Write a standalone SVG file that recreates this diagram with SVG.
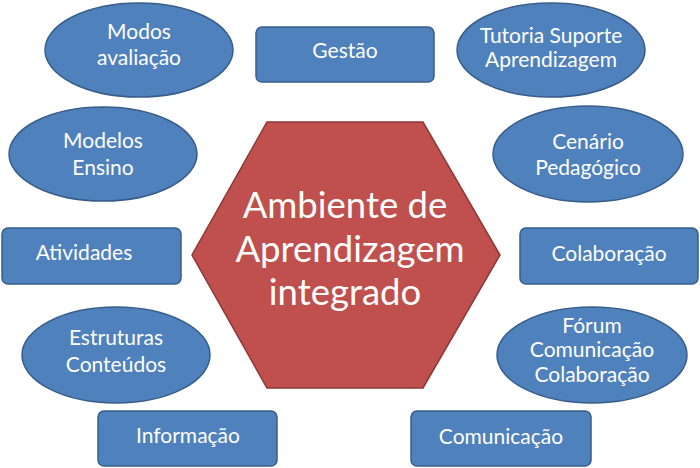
<svg xmlns="http://www.w3.org/2000/svg" width="700" height="468" viewBox="0 0 700 468">
<style>
.n{fill:#4f81bd;stroke:#385d8a;stroke-width:1.5}
.t{fill:#fff;font-family:Lato,"Liberation Sans",sans-serif;font-size:21px;text-anchor:middle}
.h{fill:#c0504d;stroke:#8c3836;stroke-width:1.5}
.ht{fill:#fff;font-family:Lato,"Liberation Sans",sans-serif;font-size:36.5px;text-anchor:middle}
</style>
<rect width="700" height="468" fill="#fff"/>
<g id="connectors"></g>
<g id="center">
<polygon class="h" points="267,122 423,122 500,255 423,388 267,388 192,255"/>
<text class="ht" x="345" y="218">Ambiente de</text>
<text class="ht" x="350" y="262">Aprendizagem</text>
<text class="ht" x="345" y="305">integrado</text>
</g>
<g id="modos"><ellipse class="n" cx="139" cy="50" rx="94" ry="47"/><text class="t" x="139" y="39">Modos</text><text class="t" x="139" y="65">avaliação</text></g>
<g id="gestao"><rect class="n" x="256" y="27" width="178" height="55" rx="6"/><text class="t" x="345" y="58">Gestão</text></g>
<g id="tutoria"><ellipse class="n" cx="551" cy="50" rx="94" ry="47"/><text class="t" x="551" y="43">Tutoria Suporte</text><text class="t" x="551" y="67">Aprendizagem</text></g>
<g id="modelos"><ellipse class="n" cx="103" cy="154" rx="94" ry="47"/><text class="t" x="103" y="148">Modelos</text><text class="t" x="103" y="175">Ensino</text></g>
<g id="cenario"><ellipse class="n" cx="588" cy="154" rx="95" ry="48"/><text class="t" x="588" y="149">Cenário</text><text class="t" x="588" y="175">Pedagógico</text></g>
<g id="atividades"><rect class="n" x="2" y="228" width="179" height="56" rx="6"/><text class="t" x="84" y="260">Atividades</text></g>
<g id="colaboracao"><rect class="n" x="520" y="228" width="178" height="56" rx="6"/><text class="t" x="609" y="261">Colaboração</text></g>
<g id="estruturas"><ellipse class="n" cx="116" cy="355" rx="94" ry="48"/><text class="t" x="116" y="345">Estruturas</text><text class="t" x="116" y="372">Conteúdos</text></g>
<g id="forum"><ellipse class="n" cx="592" cy="355" rx="95" ry="48"/><text class="t" x="592" y="333">Fórum</text><text class="t" x="592" y="357">Comunicação</text><text class="t" x="592" y="382">Colaboração</text></g>
<g id="informacao"><rect class="n" x="98" y="411" width="179" height="55" rx="6"/><text class="t" x="188" y="443">Informação</text></g>
<g id="comunicacao"><rect class="n" x="411" y="411" width="180" height="55" rx="6"/><text class="t" x="501" y="444">Comunicação</text></g>
</svg>
